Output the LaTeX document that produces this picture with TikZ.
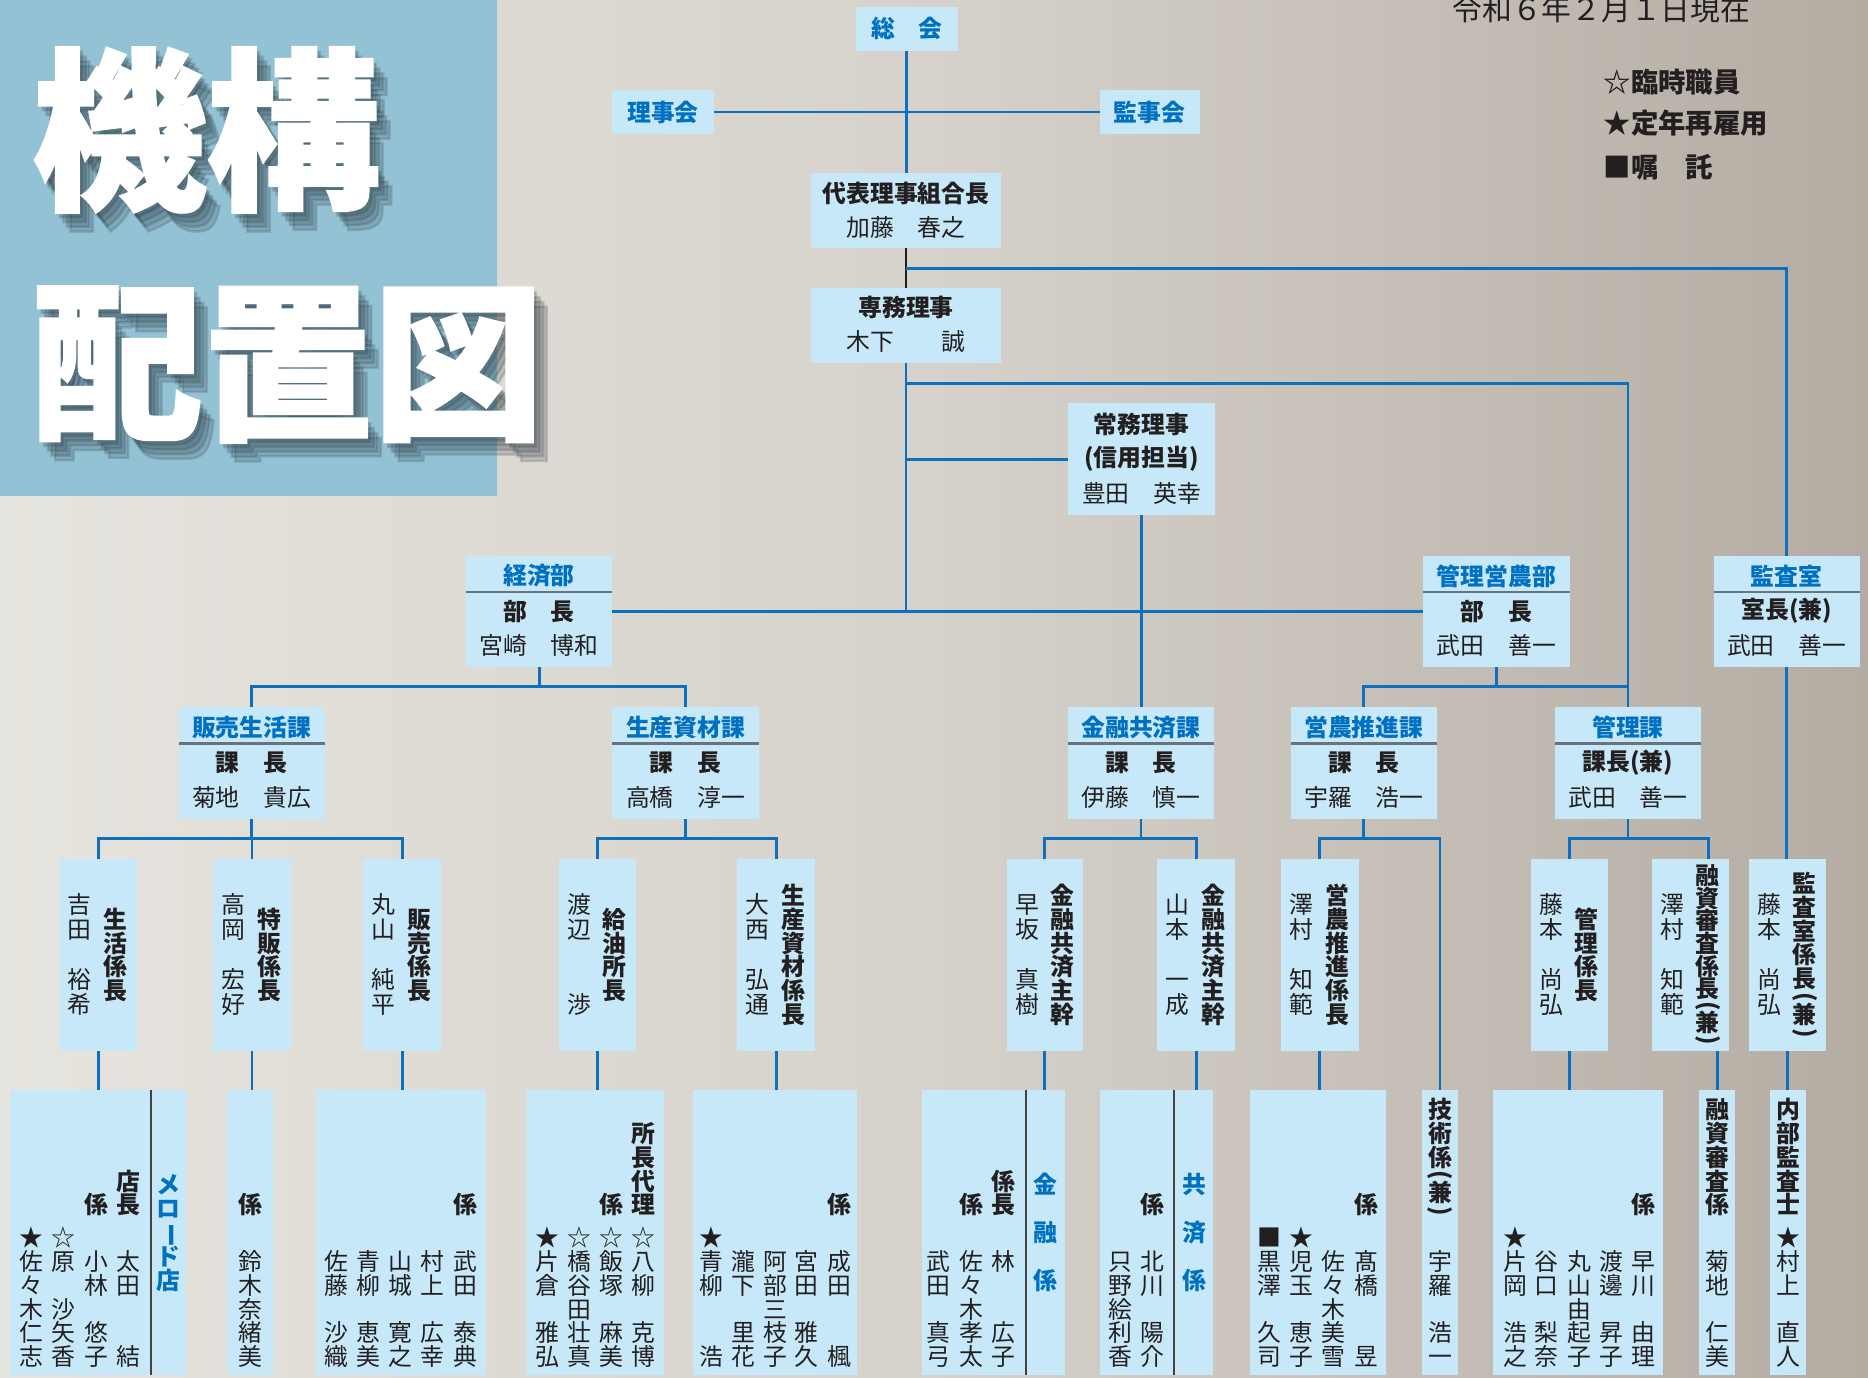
\documentclass[tikz,border=0pt]{standalone}
\usepackage{fontspec}
\usepackage{graphicx}
\usetikzlibrary{calc}
\newfontfamily\jp{Noto Sans CJK JP}
\newfontfamily\jph{Noto Sans CJK JP}[BoldFeatures={FakeBold=1.5}]
\definecolor{boxfill}{RGB}{198,232,248}
\definecolor{lineblue}{RGB}{12,112,190}
\definecolor{textblue}{RGB}{0,112,192}
\definecolor{ink}{RGB}{35,31,32}
\definecolor{panel}{RGB}{147,194,212}
\definecolor{bgL}{RGB}{230,228,222}
\definecolor{bgM}{RGB}{214,210,203}
\definecolor{bgR}{RGB}{180,172,163}
\definecolor{sepc}{RGB}{105,115,125}
\definecolor{shadowc}{RGB}{35,50,58}

\newdimen\vpitch \newdimen\vwid \vwid=24pt
\def\vststop{VSTSTOP}\def\PL{VSTPL}\def\PR{VSTPR}\def\LV{VSTLV}
\def\vstfull#1{\hbox to\vwid{\vrule height\vpitch width0pt\hss\smash{\raisebox{\dimexpr.5\vpitch-.38em\relax}{#1}}\hss}}
\def\vsthalf#1{\hbox to\vwid{\vrule height.5\vpitch width0pt\hss\smash{\raisebox{\dimexpr.25\vpitch-.34em\relax}{\rotatebox[origin=c]{-90}{#1}}}\hss}}
\def\vstloop#1{%
  \ifx\vststop#1\let\vstnext\relax
  \else
    \ifx\PL#1\vsthalf{(}\else
    \ifx\PR#1\vsthalf{)}\else
    \ifx\LV#1\vstfull{\rotatebox[origin=c]{-90}{ー}}\else
    \vstfull{#1}\fi\fi\fi
    \let\vstnext\vstloop
  \fi\vstnext}
\newcommand\vtxt[2][20pt]{\vpitch=#1\relax\vbox{\offinterlineskip\vstloop#2\vststop}}

\tikzset{
 boxst/.style={fill=boxfill, draw=none, inner sep=0pt, outer sep=0pt},
 conn/.style={draw=lineblue, line width=2.4pt},
 blk/.style={draw=ink, line width=1.6pt},
 sepst/.style={draw=sepc, line width=1.8pt},
 divst/.style={draw=ink!85, line width=1.1pt},
 hd/.style={font=\jp\bfseries\fontsize{20}{24}\selectfont, text=textblue, inner sep=0pt},
 tt/.style={font=\jp\bfseries\fontsize{20}{24}\selectfont, text=ink, inner sep=0pt},
 nm/.style={font=\jp\fontsize{20}{24}\selectfont, text=ink, inner sep=0pt},
 ttlA/.style={font=\jph\bfseries\fontsize{146}{146}\selectfont, inner sep=0pt, anchor=west},
 ttlB/.style={font=\jph\bfseries\fontsize{143}{143}\selectfont, inner sep=0pt, anchor=west},
 lg/.style={font=\jp\bfseries\fontsize{23}{23}\selectfont, text=ink, inner sep=0pt, anchor=west},
}

\newcommand\bx[5]{%
 \pgfmathsetmacro\bxw{#4-#2}\pgfmathsetmacro\bxh{#5-#3}%
 \pgfmathsetmacro\bxx{(#2+#4)/2}\pgfmathsetmacro\bxy{(#3+#5)/2}%
 \node[boxst, minimum width=\bxw pt, minimum height=\bxh pt] (#1) at (\bxx,\bxy) {};}
\newcommand\dbox[8]{%
 \bx{#1}{#2}{#3}{#4}{#5}%
 \node[hd] (#1H) at ($(#1.north)+(0,17)$) {#6};
 \draw[sepst] ($(#1.north west)+(0,30.5)$) -- ($(#1.north east)+(0,30.5)$);
 \node[tt] (#1T) at ($(#1.north)+(0,46.5)$) {#7};
 \node[nm] (#1N) at ($(#1.north)+(0,75.5)$) {#8};}
\newcommand\vbx[6]{%
 \bx{#1}{#2}{721}{#3}{882}%
 \node[nm] (#1N) at ($(#1.west)+(17,0)$) {\vtxt[21pt]{#4}};
 \node[tt] (#1T) at ($(#1.west)+(47,0)$) {\vtxt[#6]{#5}};}
\newcommand\sn[3]{\node[nm, anchor=south] (#1) at (#2,1149) {\vtxt{#3}};}
\newcommand\sh[3]{\node[tt, anchor=south] (#1) at (#2,1021.5) {\vtxt{#3}};}

\begin{document}
\begin{tikzpicture}[x=1pt,y=-1pt]
\useasboundingbox (0,0) rectangle (1568,1156);
\shade[left color=bgL, right color=bgR, middle color=bgM] (0,0) rectangle (1568,1156);
\fill[panel] (0,0) rectangle (417,416);

% title with soft shadow
\foreach \dx/\dy in {3/4,6/8,9/12,12/16}{
  \node[ttlA, text=shadowc, opacity=0.17] (shA-\dx-\dy) at (27+\dx,109+\dy) {機構};
  \node[ttlB, text=shadowc, opacity=0.17] (shB-\dx-\dy) at (27+\dx,306+\dy) {配置図};
}
\node[ttlA, text=white] (title1) at (27,109) {機構};
\node[ttlB, text=white] (title2) at (27,306) {配置図};

% date and legend
\node[font=\jp\fontsize{25}{25}\selectfont, text=ink, anchor=west, inner sep=0pt] (date) at (1219,8) {令和６年２月１日現在};
\node[lg] (lg1) at (1346,68.6) {☆臨時職員};
\node[lg] (lg2) at (1346,103.5) {★定年再雇用};
\node[lg] (lg3) at (1346,140) {■嘱　託};

% top boxes
\bx{soukai}{718.5}{6}{804}{42.5}
\bx{rijikai}{514}{75.5}{599}{112.5}
\bx{kanjikai}{923}{75.5}{1007}{112.5}
\bx{daihyo}{681}{145.5}{840}{208.5}
\bx{senmu}{681}{242}{840}{305}
\bx{joumu}{896.5}{338.5}{1020}{432.5}

% level 2
\dbox{keizai}{391}{466.5}{514}{560}{経済部}{部　長}{宮崎　博和}
\dbox{kanrieino}{1194.5}{466.5}{1317.5}{560}{管理営農部}{部　長}{武田　善一}
\dbox{kansa}{1438.4}{466.5}{1561}{560}{監査室}{室長(兼)}{武田　善一}
\dbox{hanbai}{150}{593.6}{272.5}{687.6}{販売生活課}{課　長}{菊地　貴広}
\dbox{seisan}{514}{593.6}{637}{687.6}{生産資材課}{課　長}{高橋　淳一}
\dbox{kinyu}{896.5}{593.6}{1019}{687.6}{金融共済課}{課　長}{伊藤　慎一}
\dbox{eino}{1083.5}{593.6}{1206}{687.6}{営農推進課}{課　長}{宇羅　浩一}
\dbox{kanri}{1305}{593.6}{1428}{687.6}{管理課}{課長(兼)}{武田　善一}

% level 3
\vbx{v1}{50}{115}{吉田　裕希}{生活係長}{20pt}
\vbx{v2}{179}{244}{高岡　宏好}{特販係長}{20pt}
\vbx{v3}{305}{370}{丸山　純平}{販売係長}{20pt}
\vbx{v4}{469}{534}{渡辺　　渉}{給油所長}{20pt}
\vbx{v5}{619}{684}{大西　弘通}{生産資材係長}{20pt}
\vbx{v6}{845}{909}{早坂　真樹}{金融共済主幹}{20pt}
\vbx{v7}{971.5}{1036.5}{山本　一成}{金融共済主幹}{20pt}
\vbx{v8}{1075.3}{1140.4}{澤村　知範}{営農推進係長}{20pt}
\vbx{v9}{1285}{1350}{藤本　尚弘}{管理係長}{20pt}
\vbx{v10}{1386.4}{1451.4}{澤村　知範}{融資審査係長\PL 兼\PR}{19pt}
\vbx{v11}{1468}{1533}{藤本　尚弘}{監査室係長\PL 兼\PR}{20pt}

% staff boxes
\bx{sA}{8.4}{915}{156.1}{1154}
\bx{sB}{190.5}{915}{229.2}{1154}
\bx{sC}{265.3}{915}{408}{1154}
\bx{sD}{442.4}{915}{557.4}{1154}
\bx{sE}{581.7}{915}{719.4}{1154}
\bx{sF}{774}{915}{894}{1154}
\bx{sG}{923.3}{915}{1018.2}{1154}
\bx{sH}{1049.3}{915}{1163.4}{1154}
\bx{sT}{1193.6}{915}{1223.8}{1154}
\bx{sI}{1253.2}{915}{1396}{1154}
\bx{sJ}{1426.2}{915}{1456.4}{1154}
\bx{sK}{1485.8}{915}{1516}{1154}

% connectors
\coordinate (L2) at (0,576.5);
\coordinate (L3) at (0,703.5);
\coordinate (J225) at (760.5,225.3);
\coordinate (J321) at (760.5,321.7);
\coordinate (jYu) at (1434,703.5);
\draw[conn] (soukai.south) -- (soukai.south |- daihyo.north);
\draw[conn] (rijikai.east) -- (kanjikai.west);
\draw[blk] (daihyo.south) -- (senmu.north);
\draw[conn] (J225) -| (kansa.north);
\draw[conn] (senmu.south) -- (senmu.south |- keizai.east);
\draw[conn] (J321) -| (kanri.north);
\draw[conn] (senmu.south |- joumu.west) -- (joumu.west);
\draw[conn] (joumu.south) -- (joumu.south |- kinyu.north);
\draw[conn] (keizai.east) -- (kanrieino.west);
\draw[conn] (keizai.south) -- (keizai.south |- L2);
\draw[conn] (hanbai.north) -- (hanbai.north |- L2) -- (seisan.north |- L2) -- (seisan.north);
\draw[conn] (kanrieino.south) -- (kanrieino.south |- L2);
\draw[conn] (eino.north) -- (eino.north |- L2) -- (kanri.north |- L2);
\draw[conn] (kansa.south) -- (kansa.south |- v11.north);

\draw[conn] (hanbai.south) -- (hanbai.south |- L3);
\draw[conn] (v1.north) -- (v1.north |- L3) -- (v3.north |- L3) -- (v3.north);
\draw[conn] (v2.north) -- (v2.north |- L3);
\draw[conn] (seisan.south) -- (seisan.south |- L3);
\draw[conn] (v4.north) -- (v4.north |- L3) -- (v5.north |- L3) -- (v5.north);
\draw[conn] (kinyu.south) -- (kinyu.south |- L3);
\draw[conn] (v6.north) -- (v6.north |- L3) -- (v7.north |- L3) -- (v7.north);
\draw[conn] (eino.south) -- (eino.south |- L3);
\draw[conn] (v8.north) -- (v8.north |- L3) -- (sT.north |- L3) -- (sT.north);
\draw[conn] (kanri.south) -- (kanri.south |- L3);
\draw[conn] (v9.north) -- (v9.north |- L3) -- (jYu) -- (jYu |- v10.north);
\draw[conn] (v10.south -| sJ.north) -- (sJ.north);
\foreach \a/\b in {v1/sA,v2/sB,v3/sC,v4/sD,v5/sE,v6/sF,v7/sG,v8/sH,v9/sI,v11/sK}
  \draw[conn] (\a.south) -- (\a.south |- \b.north);

% dividers
\draw[divst] ($(sA.north west)+(118.4,0)$) -- ($(sA.south west)+(118.4,0)$);
\draw[divst] ($(sF.north west)+(87.3,0)$) -- ($(sF.south west)+(87.3,0)$);
\draw[divst] ($(sG.north west)+(62.2,0)$) -- ($(sG.south west)+(62.2,0)$);

% top texts
\node[hd] (soukaiT) at (soukai.center) {総　会};
\node[hd] (rijikaiT) at (rijikai.center) {理事会};
\node[hd] (kanjikaiT) at (kanjikai.center) {監事会};
\node[tt] (daihyoT) at ($(daihyo.north)+(0,16.5)$) {代表理事組合長};
\node[nm] (daihyoN) at ($(daihyo.north)+(0,45.5)$) {加藤　春之};
\node[tt] (senmuT) at ($(senmu.north)+(0,16.5)$) {専務理事};
\node[nm] (senmuN) at ($(senmu.north)+(0,45)$) {木下　　誠};
\node[tt] (joumuT) at ($(joumu.north)+(0,18)$) {常務理事};
\node[tt] (joumuS) at ($(joumu.north)+(0,46.5)$) {(信用担当)};
\node[nm] (joumuN) at ($(joumu.north)+(0,75.5)$) {豊田　英幸};

% staff texts
\sh{hA1}{80.6}{係}\sh{hA2}{107.7}{店長}
\sn{nA1}{26.6}{★佐々木仁志}\sn{nA2}{53.2}{☆原　沙矢香}\sn{nA3}{80.6}{小林　悠子}\sn{nA4}{107.7}{太田　　結}
\node[hd] (melo) at (141,1034.5) {\vtxt{メロ\LV ド店}};
\sh{hB1}{209.9}{係}\sn{nB1}{209.9}{鈴木奈緒美}
\sh{hC1}{391}{係}
\sn{nC1}{282.6}{佐藤　沙織}\sn{nC2}{309.2}{青柳　恵美}\sn{nC3}{335.8}{山城　寛之}\sn{nC4}{362.9}{村上　広幸}\sn{nC5}{391}{武田　泰典}
\sh{hD1}{513.5}{係}\sh{hD2}{540}{所長代理}
\sn{nD1}{459.4}{★片倉　雅弘}\sn{nD2}{486}{☆橋谷田壮真}\sn{nD3}{513.5}{☆飯塚　麻美}\sn{nD4}{540}{☆八柳　克博}
\sh{hE1}{704.2}{係}
\sn{nE1}{597.4}{★青柳　　浩}\sn{nE2}{624}{瀧下　里花}\sn{nE3}{650.5}{阿部三枝子}\sn{nE4}{677.1}{宮田　雅久}\sn{nE5}{704.2}{成田　　楓}
\sh{hF1}{815.6}{係}\sh{hF2}{842.2}{係長}
\sn{nF1}{787.6}{武田　真弓}\sn{nF2}{815.6}{佐々木孝太}\sn{nF3}{842.2}{林　　広子}
\node[hd] (kinyuK) at (877.2,1034.5) {\vtxt[40pt]{金融係}};
\sh{hG1}{967.3}{係}
\sn{nG1}{940.1}{只野絵利香}\sn{nG2}{967.3}{北川　陽介}
\node[hd] (kyosaiK) at (1002.3,1034.5) {\vtxt[40pt]{共済係}};
\sh{hH1}{1146.6}{係}
\sn{nH1}{1065.5}{■黒澤　久司}\sn{nH2}{1092.6}{★児玉　恵子}\sn{nH3}{1119.2}{佐々木美雪}\sn{nH4}{1146.6}{髙橋　　昱}
\sh{hT1}{1208.7}{技術係\PL 兼\PR}\sn{nT1}{1208.7}{宇羅　浩一}
\sh{hI1}{1379.4}{係}
\sn{nI1}{1271.7}{★片岡　浩之}\sn{nI2}{1298.3}{谷口　梨奈}\sn{nI3}{1325.4}{丸山由起子}\sn{nI4}{1352.3}{渡邊　昇子}\sn{nI5}{1379.4}{早川　由理}
\sh{hJ1}{1441.3}{融資審査係}\sn{nJ1}{1441.3}{菊地　仁美}
\sh{hK1}{1500.9}{内部監査士}\sn{nK1}{1500.9}{★村上　直人}
\end{tikzpicture}
\end{document}
